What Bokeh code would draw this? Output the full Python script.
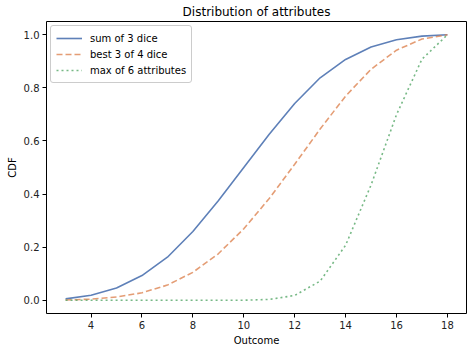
from bokeh.plotting import figure
from bokeh.models import FixedTicker, Range1d, Legend, LegendItem, CustomJSTickFormatter
from bokeh.embed import file_html
from bokeh.resources import INLINE

outcomes = list(range(3, 19))
sum3 = [0.005, 0.019, 0.046, 0.093, 0.162, 0.259, 0.375, 0.500,
        0.625, 0.741, 0.838, 0.907, 0.954, 0.981, 0.995, 1.000]
best3of4 = [0.001, 0.004, 0.012, 0.028, 0.057, 0.105, 0.175, 0.269,
            0.383, 0.512, 0.645, 0.769, 0.870, 0.942, 0.984, 1.000]
max6 = [0.000, 0.000, 0.000, 0.000, 0.000, 0.000, 0.000, 0.000,
        0.003, 0.018, 0.072, 0.207, 0.434, 0.699, 0.908, 1.000]
labels = ["sum of 3 dice", "best 3 of 4 dice", "max of 6 attributes"]
colors = ["#4C72B0", "#DD8452", "#55A868"]
xticks = [4, 6, 8, 10, 12, 14, 16, 18]
yticks = [0.0, 0.2, 0.4, 0.6, 0.8, 1.0]

FONT = "DejaVu Sans"

p = figure(width=472, height=352, output_backend="svg", toolbar_location=None,
           x_range=Range1d(2.25, 18.75), y_range=Range1d(-0.05, 1.05),
           min_border_left=46, min_border_right=6, min_border_top=0, min_border_bottom=39,
           title="Distribution of attributes")
p.title.align = "center"
p.title.text_font = FONT
p.title.text_font_size = "12px"
p.title.text_font_style = "normal"
p.title.text_color = "#000000"
p.title.standoff = 5
p.title.offset = 0
p.outline_line_color = "black"
p.outline_line_width = 1
p.xgrid.visible = False
p.ygrid.visible = False
p.background_fill_color = "white"
p.border_fill_color = "white"

r1 = p.line(outcomes, sum3, line_color=colors[0], line_width=1.6, line_alpha=0.9)
r2 = p.line(outcomes, best3of4, line_color=colors[1], line_width=1.6, line_alpha=0.8,
            line_dash="6 3")
r3 = p.line(outcomes, max6, line_color=colors[2], line_width=1.6, line_alpha=0.8,
            line_dash="2 3")

for ax in (p.xaxis[0], p.yaxis[0]):
    ax.axis_line_color = None
    ax.major_tick_out = 4
    ax.major_tick_in = 0
    ax.minor_tick_out = 0
    ax.minor_tick_in = 0
    ax.major_tick_line_color = "black"
    ax.major_label_text_font = FONT
    ax.major_label_text_font_size = "10px"
    ax.major_label_text_color = "#222222"
    ax.axis_label_text_font = FONT
    ax.axis_label_text_font_size = "10px"
    ax.axis_label_text_font_style = "normal"
    ax.axis_label_text_color = "#000000"
    ax.axis_label_standoff = 3
    ax.major_label_standoff = 3

p.xaxis.ticker = FixedTicker(ticks=xticks)
p.yaxis.ticker = FixedTicker(ticks=yticks)
p.yaxis.formatter = CustomJSTickFormatter(code="return tick.toFixed(1);")
p.xaxis.axis_label = "Outcome"
p.yaxis.axis_label = "CDF"

legend = Legend(items=[LegendItem(label=labels[0], renderers=[r1]),
                       LegendItem(label=labels[1], renderers=[r2]),
                       LegendItem(label=labels[2], renderers=[r3])],
                location="top_left")
legend.label_text_font = FONT
legend.label_text_font_size = "10px"
legend.label_text_color = "#000000"
legend.border_line_color = "#cccccc"
legend.border_line_alpha = 1
legend.border_radius = 3
legend.background_fill_alpha = 0.8
legend.glyph_width = 26
legend.glyph_height = 14
legend.label_height = 14
legend.spacing = 2
legend.padding = 5
legend.margin = 4
legend.label_standoff = 8
p.add_layout(legend)

open("out.html", "w").write(file_html(p, INLINE))
